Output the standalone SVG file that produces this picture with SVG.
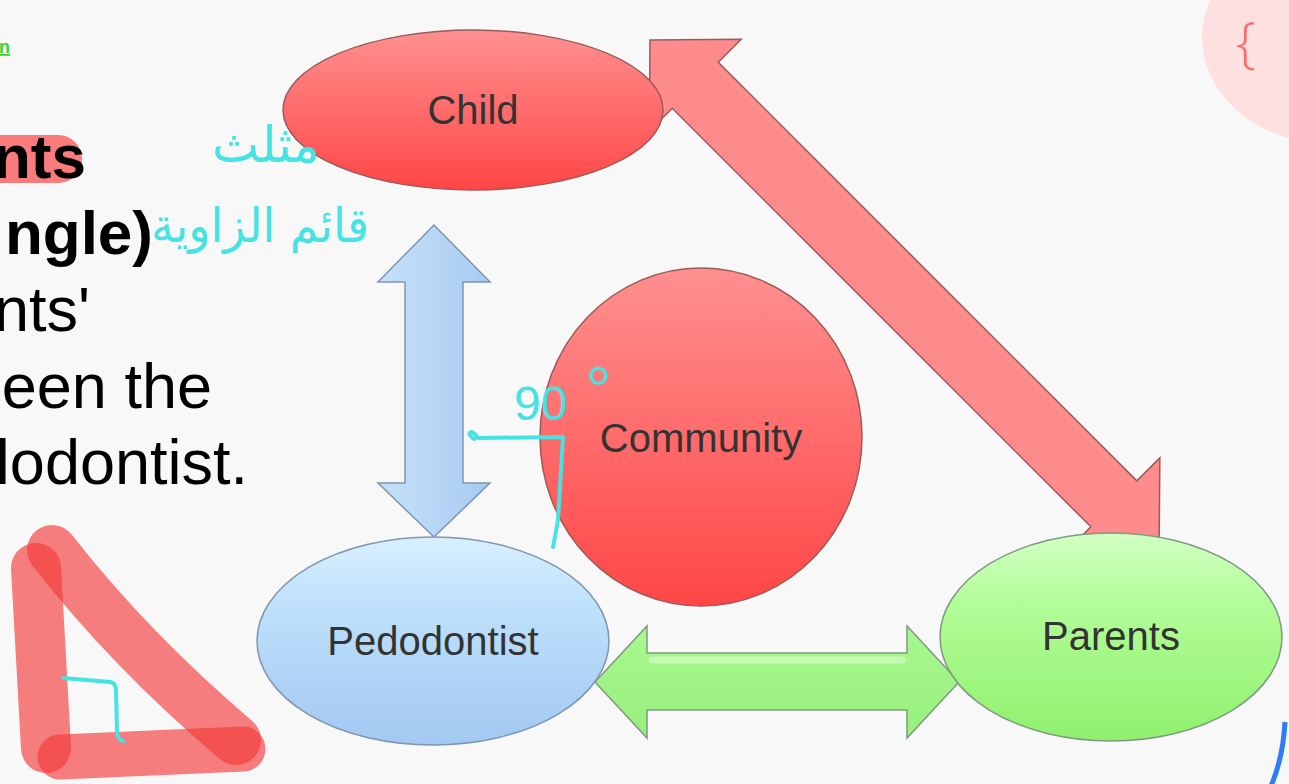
<svg xmlns="http://www.w3.org/2000/svg" width="1289" height="784" viewBox="0 0 1289 784">
  <defs>
    <linearGradient id="gRed" x1="0" y1="0" x2="0" y2="1">
      <stop offset="0" stop-color="#ff9090"/>
      <stop offset="1" stop-color="#ff4646"/>
    </linearGradient>
    <linearGradient id="gRedArrow" gradientUnits="userSpaceOnUse" x1="0" y1="40" x2="0" y2="550">
      <stop offset="0" stop-color="#ff8c8c"/>
      <stop offset="1" stop-color="#ff4444"/>
    </linearGradient>
    <linearGradient id="gBlue" x1="0" y1="0" x2="0" y2="1">
      <stop offset="0" stop-color="#d8f0ff"/>
      <stop offset="0.35" stop-color="#bde0fb"/>
      <stop offset="1" stop-color="#a3c8f2"/>
    </linearGradient>
    <linearGradient id="gBlueArrow" x1="0" y1="0" x2="1" y2="0">
      <stop offset="0" stop-color="#c6e0f8"/>
      <stop offset="0.5" stop-color="#b8d7f6"/>
      <stop offset="1" stop-color="#a6c9f1"/>
    </linearGradient>
    <linearGradient id="gGreen" x1="0" y1="0" x2="0" y2="1">
      <stop offset="0" stop-color="#d2ffc4"/>
      <stop offset="0.35" stop-color="#b2fd98"/>
      <stop offset="1" stop-color="#8ff06c"/>
    </linearGradient>
    <linearGradient id="gGreenArrow" x1="0" y1="0" x2="0" y2="1">
      <stop offset="0" stop-color="#a8f890"/>
      <stop offset="1" stop-color="#98f07c"/>
    </linearGradient>
    <style>
      .node-label { font-family: "Liberation Sans", Arial, sans-serif; font-size: 40px; fill: #333333; text-anchor: middle; }
      .body-bold { font-family: "Liberation Sans", Arial, sans-serif; font-size: 62px; font-weight: bold; fill: #000000; text-anchor: end; }
      .body { font-family: "Liberation Sans", Arial, sans-serif; font-size: 63px; fill: #000000; text-anchor: end; }
      .ink { fill: none; stroke: #45e3e3; stroke-width: 4; stroke-linecap: round; stroke-linejoin: round; }
      .ink-text { fill: #45e3e3; }
      .marker { fill: none; stroke: #f33a3a; stroke-opacity: 0.65; stroke-linecap: round; stroke-linejoin: round; }
      .red-shape { stroke: #9b5a5a; stroke-width: 1.5; }
      .blue-shape { stroke: #7f95b0; stroke-width: 1.5; }
      .green-shape { stroke: #7f9a7f; stroke-width: 1.5; }
    </style>
  </defs>

  <!-- page background -->
  <rect x="0" y="0" width="1289" height="784" fill="#f8f8f8"/>

  <!-- soft pink blob at the top-right corner with a brace -->
  <ellipse cx="1330" cy="37" rx="128" ry="107" fill="#ffe0e0"/>
  <text x="1246" y="62" font-family="Open Sans, 'Liberation Sans', sans-serif" font-weight="300" font-size="56" fill="#ff6b6b" text-anchor="middle">{</text>

  <!-- blue arc at the bottom-right corner -->
  <path d="M1285,722 Q1283,758 1271,786" fill="none" stroke="#2f7df6" stroke-width="5"/>

  <!-- cut-off link text at top-left -->
  <text x="10" y="53" font-family="'Liberation Sans', Arial, sans-serif" font-size="18" font-weight="bold" fill="#33d633" text-anchor="end" text-decoration="underline">n</text>

  <!-- slide body text (clipped on the left) -->
  <rect x="-30" y="135" width="112" height="48" rx="24" fill="#fa7b7b"/>
  <text class="body-bold" x="86" y="178">nts</text>
  <text class="body-bold" x="153" y="254">ngle)</text>
  <text class="body" x="90" y="331">nts'</text>
  <text class="body" x="212" y="408">een the</text>
  <text class="body" x="248" y="484">lodontist.</text>

  <!-- connectors -->
  <g id="connectors">
    <!-- Child <-> Parents -->
    <g transform="translate(650,40) rotate(45)">
      <path class="red-shape" fill="url(#gRedArrow)" d="M0,0 L64,-65 L64,-32.5 L656,-32.5 L656,-65 L720,0 L656,65 L656,32.5 L64,32.5 L64,65 Z"/>
    </g>
    <!-- Child <-> Pedodontist -->
    <path class="blue-shape" fill="url(#gBlueArrow)" d="M434,225 L490,282 L463,282 L463,483 L490,483 L434,537 L378,483 L405,483 L405,282 L378,282 Z"/>
    <!-- Pedodontist <-> Parents -->
    <path class="green-shape" fill="url(#gGreenArrow)" d="M595,682 L647,626 L647,653 L907,653 L907,626 L959,682 L907,738 L907,710 L647,710 L647,738 Z"/>
    <path d="M652,660 L902,660" stroke="#e4ffd8" stroke-width="7" stroke-linecap="round" opacity="0.55"/>
  </g>

  <!-- nodes -->
  <g id="node-child">
    <ellipse class="red-shape" cx="473" cy="110" rx="190" ry="80" fill="url(#gRed)"/>
    <text class="node-label" x="473" y="124">Child</text>
  </g>
  <g id="node-community">
    <ellipse class="red-shape" cx="701" cy="437" rx="161" ry="169" fill="url(#gRed)"/>
    <text class="node-label" x="701" y="452">Community</text>
  </g>
  <g id="node-pedodontist">
    <ellipse class="blue-shape" cx="433" cy="641" rx="176" ry="104" fill="url(#gBlue)"/>
    <text class="node-label" x="433" y="655">Pedodontist</text>
  </g>
  <g id="node-parents">
    <ellipse class="green-shape" cx="1111" cy="637" rx="171" ry="104" fill="url(#gGreen)"/>
    <text class="node-label" x="1111" y="650">Parents</text>
  </g>

  <!-- handwritten notes -->
  <g id="notes">
    <text class="ink-text" x="266" y="162" font-family="'DejaVu Sans', sans-serif" font-size="50" text-anchor="middle" textLength="108" lengthAdjust="spacingAndGlyphs">مثلث</text>
    <text class="ink-text" x="260" y="242" font-family="'DejaVu Sans', sans-serif" font-size="48" text-anchor="middle" textLength="218" lengthAdjust="spacingAndGlyphs">قائم الزاوية</text>
    <text class="ink-text" x="514" y="420" font-family="'Liberation Sans', Arial, sans-serif" font-size="48">90</text>
    <text class="ink-text" x="585" y="413" font-family="'Liberation Sans', Arial, sans-serif" font-size="66">°</text>
    <path class="ink" d="M474,439 Q466,433 472,432 Q476,434 478,438 L563,437 L558,520 L553,547"/>
  </g>

  <!-- right-triangle marker sketch -->
  <g id="triangle-sketch">
    <path class="marker" stroke-width="50" d="M36,568 L46,748"/>
    <path class="marker" stroke-width="50" d="M52,550 Q130,650 236,740"/>
    <path class="marker" stroke-width="45" d="M60,757 L243,749"/>
    <path class="ink" d="M63,678 L110,682 Q116,683 116,690 L117,733 Q118,740 123,741"/>
  </g>
</svg>
